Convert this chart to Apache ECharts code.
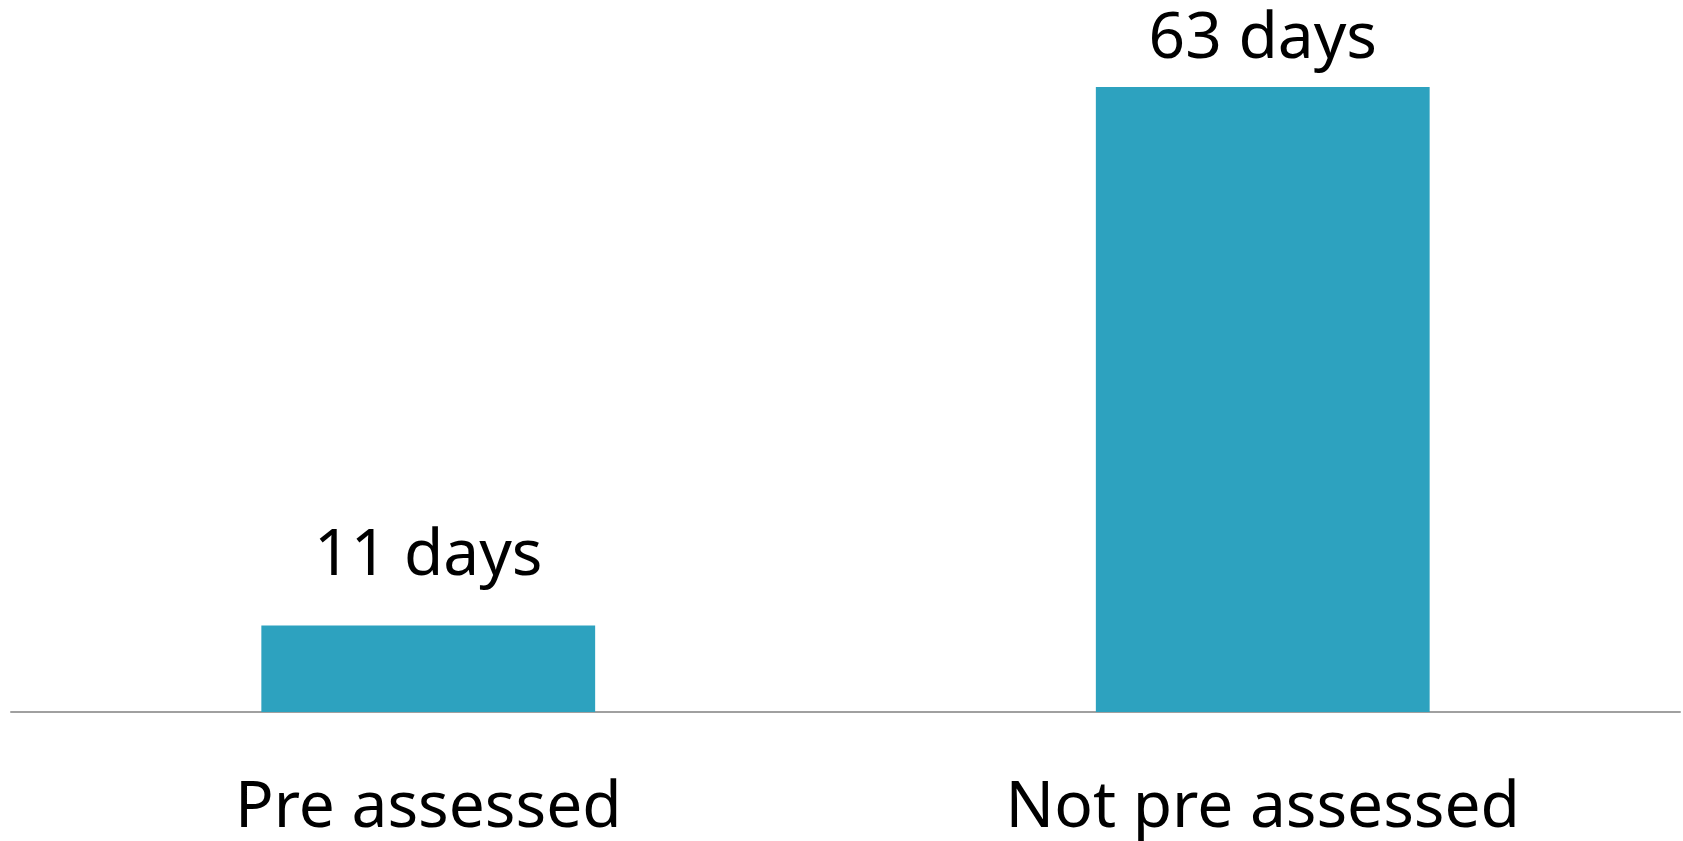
<!DOCTYPE html>
<html>
<head>
    <meta charset="utf-8" />
    <title>Days waited</title>
    <script src="https://cdn.jsdelivr.net/npm/echarts@6/dist/echarts.min.js"></script>
    <style>
        html, body { margin: 0; padding: 0; background: #fff; }
    </style>
</head>
<body>
    <div style="width:1683px;height:841px;" id="echart"></div>
</body>
</html>
<script>
    var categories = ['Pre assessed', 'Not pre assessed'];
    var days = [11, 63];
    // label gap above each bar (second one sits closer to the top edge)
    var labelGap = [37, 15];

    var myChart = echarts.init(document.getElementById('echart'));

    var barData = days.map(function (v, i) {
        return { value: v, label: { distance: labelGap[i] } };
    });

    var option = {
        animation: false,
        grid: { left: 11, right: 3, top: 87, bottom: 128.5 },
        xAxis: {
            type: 'category',
            data: categories,
            axisTick: { show: false },
            axisLine: { lineStyle: { color: '#a0a0a0', width: 2 } },
            axisLabel: {
                margin: 65,
                color: '#000',
                fontSize: 64,
                fontFamily: 'Noto Sans'
            }
        },
        yAxis: {
            type: 'value',
            min: 2.65,
            max: 63,
            show: false,
            splitLine: { show: false }
        },
        series: [{
            type: 'bar',
            data: barData,
            barWidth: '40%',
            itemStyle: { color: '#2DA2BF' },
            label: {
                show: true,
                position: 'top',
                color: '#000',
                fontSize: 64,
                fontFamily: 'Noto Sans',
                formatter: function (p) { return p.value + ' days'; }
            }
        }]
    };
    myChart.setOption(option);
</script>
